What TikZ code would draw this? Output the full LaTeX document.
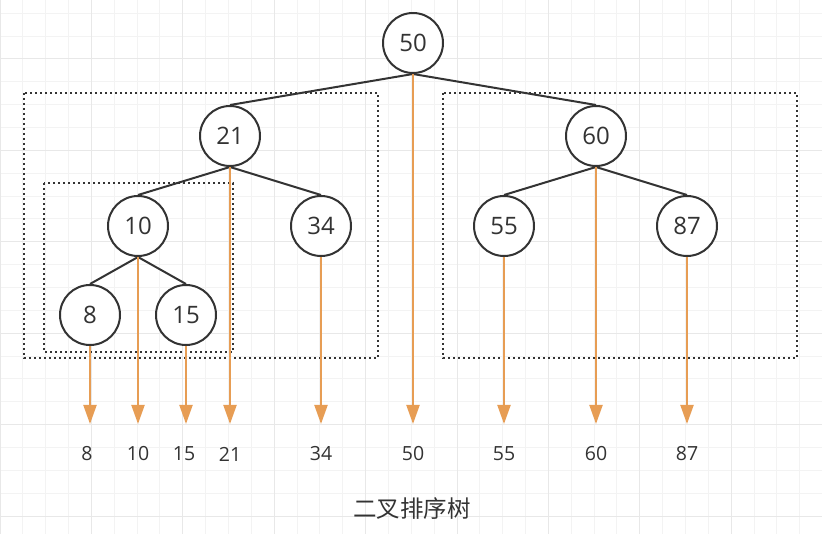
\documentclass[tikz,border=0pt]{standalone}
\usepackage{fontspec}
\setmainfont{Open Sans}
\newfontfamily\cjk{Noto Sans CJK SC}
\usetikzlibrary{arrows.meta}
\definecolor{ink}{RGB}{51,51,51}
\definecolor{flowc}{RGB}{231,157,84}
\definecolor{gridmin}{RGB}{243,243,243}
\definecolor{gridmaj}{RGB}{232,232,232}
\tikzset{
  vertex/.style={circle, draw=ink, line width=2pt, fill=white, minimum size=60pt, inner sep=0pt, text=ink, font=\fontsize{24}{24}\selectfont},
  edge/.style={draw=ink, line width=2pt},
  flow/.style={draw=flowc, line width=2pt, -{Triangle[length=19pt, width=13pt]}, flowc},
  leaf/.style={text=ink, font=\fontsize{19.5}{20}\selectfont},
  subtree/.style={draw=ink, line width=2.2pt, dash pattern=on 2.4pt off 2.6pt}
}
\begin{document}
\begin{tikzpicture}[x=1pt, y=-1pt]
			\useasboundingbox (0,0) rectangle (822,534);
			% grid
			\foreach \i in {0,...,36} \draw[gridmin, line width=1pt] (\i*22.85,0) -- (\i*22.85,534);
			\foreach \j in {-2,...,20} \draw[gridmin, line width=1pt] (0,59+\j*22.85) -- (822,59+\j*22.85);
			\foreach \i in {0,4,...,36} \draw[gridmaj, line width=1pt] (\i*22.85,0) -- (\i*22.85,534);
			\foreach \j in {0,4,...,20} \draw[gridmaj, line width=1pt] (0,59+\j*22.85) -- (822,59+\j*22.85);
			% subtrees
			\draw[subtree] (24,93) rectangle (378,358);
			\draw[subtree] (44,183) rectangle (233,352);
			\draw[subtree] (443,93) rectangle (797,358);
			% tree
			\node[vertex] (n50) at (413,43) {50};
			\node[vertex] (n21) at (230,136) {21};
			\node[vertex] (n60) at (596,136) {60};
			\node[vertex] (n10) at (138,226) {10};
			\node[vertex] (n34) at (321,226) {34};
			\node[vertex] (n55) at (504,226) {55};
			\node[vertex] (n87) at (687,226) {87};
			\node[vertex] (n8) at (90,315) {8};
			\node[vertex] (n15) at (186,315) {15};
			\foreach \a/\b in {50/21,50/60,21/10,21/34,60/55,60/87,10/8,10/15}
				\draw[edge] (n\a.south) -- (n\b.north);
			% in-order
			\coordinate (base) at (0,424);
			\foreach \n in {8,10,15,21,34,50,55,60,87}
				\draw[flow] (n\n.south) -- (n\n.south |- base);
			\foreach \n/\x in {8/87,10/138,15/184,21/230,34/321,50/413,55/504,60/596,87/687}
				\node[leaf] (l\n) at (\x,454) {\n};
			\node[text=ink, font=\cjk\fontsize{23.5}{24}\selectfont] (title) at (412,509) {二叉排序树};
\end{tikzpicture}
\end{document}
